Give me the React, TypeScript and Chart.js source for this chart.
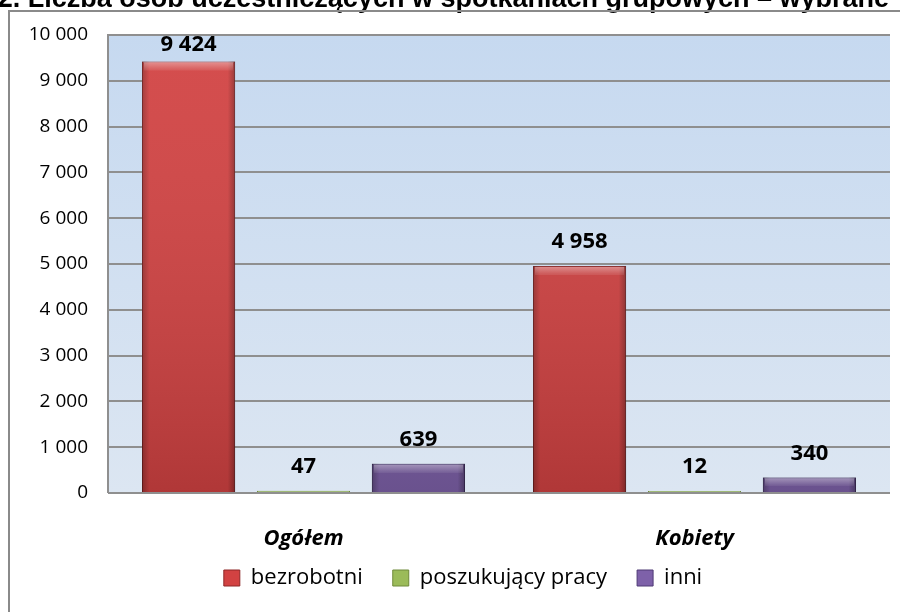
import React, { useEffect, useRef } from "react";
import { Chart, registerables } from "chart.js";

Chart.register(...registerables);

const TITLE = "Wykres nr 2. Liczba osób uczestniczących w spotkaniach grupowych – wybrane";
const categories = ["Ogółem", "Kobiety"];
const seriesNames = ["bezrobotni", "poszukujący pracy", "inni"];
const bezrobotni = [9424, 4958];
const poszukujacy = [47, 12];
const inni = [639, 340];
const seriesColors = ["#d24242", "#9bbb59", "#7e61a9"];
const seriesBorders = ["#8e2626", "#6f8a3a", "#4f3a75"];
const yMax = 10000;
const yStep = 1000;

const fmt = (v: number) => String(v).replace(/\B(?=(\d{3})+(?!\d))/g, " ");

const FONT = "'Open Sans', Lato, sans-serif";

const decorPlugin = {
  id: "decor",
  afterLayout(chart: any) {
    const lg = chart.legend;
    if (lg) {
      lg.left += 8;
      lg.right += 8;
      lg.top -= 13;
      lg.bottom -= 13;
    }
  },
  beforeDraw(chart: any) {
    const { ctx, chartArea } = chart;
    ctx.save();
    ctx.fillStyle = "#ffffff";
    ctx.fillRect(0, 0, chart.width, chart.height);
    ctx.fillStyle = "#000";
    ctx.font = "bold 27px 'Liberation Sans', Arial, sans-serif";
    ctx.textAlign = "right";
    ctx.textBaseline = "alphabetic";
    ctx.fillText(TITLE, 889, 7);
    ctx.strokeStyle = "#8a8a8a";
    ctx.lineWidth = 2;
    ctx.beginPath();
    ctx.moveTo(9, chart.height + 2);
    ctx.lineTo(9, 11);
    ctx.lineTo(chart.width + 2, 11);
    ctx.stroke();
    const g = ctx.createLinearGradient(0, chartArea.top, 0, chartArea.bottom);
    g.addColorStop(0, "#c6d9f0");
    g.addColorStop(1, "#dce6f2");
    ctx.fillStyle = g;
    ctx.fillRect(chartArea.left, chartArea.top, chartArea.right - chartArea.left, chartArea.bottom - chartArea.top);
    ctx.restore();
  },
  afterDraw(chart: any) {
    const { ctx, chartArea } = chart;
    ctx.save();
    ctx.strokeStyle = "#8f8f8f";
    ctx.lineWidth = 2;
    ctx.beginPath();
    ctx.moveTo(chartArea.left, chartArea.bottom);
    ctx.lineTo(chartArea.left, chartArea.top);
    ctx.lineTo(chartArea.right, chartArea.top);
    ctx.stroke();
    ctx.restore();
  },
  afterDatasetsDraw(chart: any) {
    const { ctx, chartArea } = chart;
    ctx.save();
    chart.data.datasets.forEach((ds: any, di: number) => {
      const meta = chart.getDatasetMeta(di);
      meta.data.forEach((bar: any, i: number) => {
        const w = bar.width;
        const left = bar.x - w / 2;
        const top = bar.y;
        const h = bar.base - bar.y;
        if (h > 3) {
          const hg = ctx.createLinearGradient(left, 0, left + w, 0);
          hg.addColorStop(0, "rgba(0,0,0,0.25)");
          hg.addColorStop(0.08, "rgba(0,0,0,0)");
          hg.addColorStop(0.92, "rgba(0,0,0,0)");
          hg.addColorStop(1, "rgba(0,0,0,0.3)");
          ctx.fillStyle = hg;
          ctx.fillRect(left, top, w, h);
          const vg = ctx.createLinearGradient(0, chartArea.top, 0, chartArea.bottom);
          vg.addColorStop(0, "rgba(255,255,255,0.06)");
          vg.addColorStop(1, "rgba(0,0,0,0.16)");
          ctx.fillStyle = vg;
          ctx.fillRect(left, top, w, h);
          const bh = Math.min(8, h / 2);
          const tg = ctx.createLinearGradient(0, top, 0, top + bh);
          tg.addColorStop(0, "rgba(255,255,255,0.4)");
          tg.addColorStop(1, "rgba(255,255,255,0.1)");
          ctx.fillStyle = tg;
          ctx.fillRect(left + 2, top + 1, w - 4, bh);
        }
        const v = ds.data[i];
        const cy = Math.max(bar.y - 24, chartArea.top + 10);
        ctx.fillStyle = "#000";
        ctx.font = "bold 22px " + FONT;
        ctx.textAlign = "center";
        ctx.textBaseline = "middle";
        ctx.fillText(fmt(v), bar.x, cy);
      });
    });
    ctx.restore();
  },
};

export default function App() {
  const ref = useRef<HTMLCanvasElement>(null);
  useEffect(() => {
    const data = [bezrobotni, poszukujacy, inni];
    const chart = new Chart(ref.current!, {
      type: "bar",
      data: {
        labels: categories,
        datasets: seriesNames.map((name, k) => ({
          label: name,
          data: data[k],
          backgroundColor: seriesColors[k],
          borderColor: seriesBorders[k],
          borderWidth: 1,
          minBarLength: 2,
          categoryPercentage: 0.882,
          barPercentage: 0.81,
        })),
      },
      options: {
        responsive: false,
        animation: false,
        layout: { padding: { left: 20, right: 10, top: 35, bottom: 0 } },
        plugins: {
          legend: {
            position: "bottom",
            labels: {
              font: { family: FONT, size: 22 },
              color: "#000",
              boxWidth: 16,
              boxHeight: 16,
              padding: 30,
            },
          },
          tooltip: { enabled: false },
        },
        scales: {
          x: {
            grid: { display: false, drawTicks: false },
            border: { display: false },
            ticks: {
              color: "#000",
              padding: 33,
              font: { family: FONT, size: 22, weight: "bold", style: "italic" },
            },
            afterFit: (s: any) => {
              s.height = 57;
            },
          },
          y: {
            min: 0,
            max: yMax,
            grid: { color: "#8f8f8f", lineWidth: 2, drawTicks: false },
            border: { display: false },
            ticks: {
              stepSize: yStep,
              color: "#000",
              padding: 20,
              font: { family: FONT, size: 19 },
              callback: (v: any) => fmt(Number(v)),
            },
            afterFit: (s: any) => {
              s.width = 88;
            },
          },
        },
      },
      plugins: [decorPlugin],
    });
    return () => chart.destroy();
  }, []);
  return (
    <div style={{ position: "absolute", left: 0, top: 0, width: 900, height: 612 }}>
      <canvas ref={ref} width={900} height={612} />
    </div>
  );
}
